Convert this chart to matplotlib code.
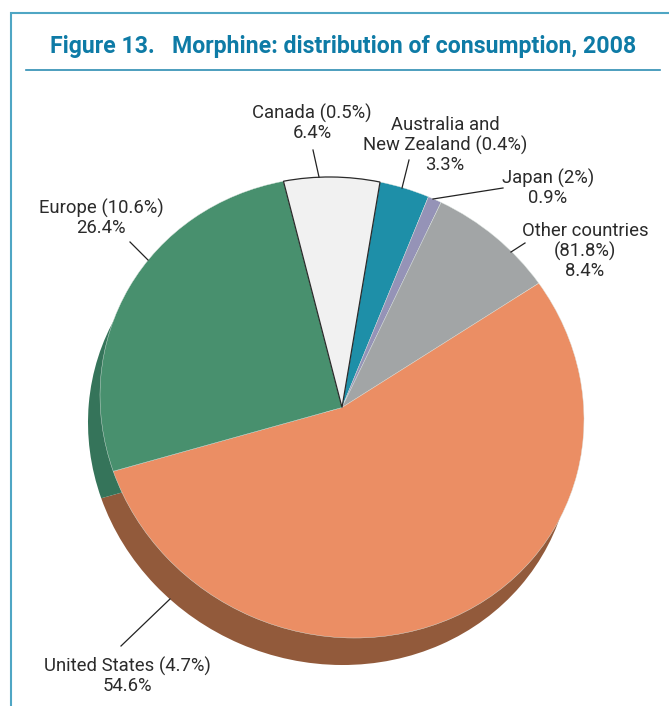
import matplotlib
matplotlib.use("Agg")
import matplotlib.pyplot as plt
from matplotlib.transforms import Affine2D
import numpy as np

W, H = 669, 706

# clockwise from Canada
regions = ["Canada", "Australia and New Zealand", "Japan", "Other countries", "United States", "Europe"]
shares = [6.4, 3.3, 0.9, 8.4, 54.6, 26.4]
top_colors = ["#F1F1F1", "#1E8FA8", "#9593B7", "#A2A5A6", "#EB8E64", "#48906E"]
side_colors = ["#F1F1F1", "#1E8FA8", "#9593B7", "#A2A5A6", "#925A3B", "#35745A"]

title = "Figure 13.   Morphine: distribution of consumption, 2008"
labels = ["Canada (0.5%)\n6.4%", "Australia and\nNew Zealand (0.4%)\n3.3%", "Japan (2%)\n0.9%",
          "Other countries\n(81.8%)\n8.4%", "United States (4.7%)\n54.6%", "Europe (10.6%)\n26.4%"]
label_xy = [(312, 123), (445, 145), (548, 188), (585, 251), (127, 676), (101, 218)]
leaders = [((313, 150), (319, 177)), ((409, 160), (402, 188)), ((503, 188), (433, 199)),
           ((525, 243), (511, 252)), ((121, 646), (170, 599)), ((130, 242), (148, 260))]

cx, cy, rx, ry = 342, 407.5, 242, 230.2
dx, dy = -12, 27
start = 104
shear = -12 / ry   # the pie is a slightly tilted ellipse, not an upright one

fig = plt.figure(figsize=(W / 100, H / 100), dpi=100, facecolor="white")


def draw_pie(x0, y0, colors, **wedgeprops):
    # axes placed in pixels so that the unit pie becomes the flattened ellipse
    a = fig.add_axes([(x0 - rx) / W, 1 - (y0 + ry) / H, 2 * rx / W, 2 * ry / H])
    wedges, _ = a.pie(shares, colors=colors, startangle=start, counterclock=False, radius=1,
                      wedgeprops=wedgeprops)
    a.set_aspect("auto")
    a.set_xlim(-1, 1)
    a.set_ylim(-1, 1)
    tilt = Affine2D(np.array([[1, 0, 0], [shear, 1, 0], [0, 0, 1]]))
    for w in wedges:
        w.set_transform(tilt + a.transData)
        w.set_clip_on(False)
    return wedges


draw_pie(cx + dx, cy + dy, side_colors, linewidth=0)
wedges = draw_pie(cx, cy, top_colors, linewidth=0.3, edgecolor="#DDE5E0")
wedges[0].set_edgecolor("#2A2A2A")
wedges[0].set_linewidth(0.9)
wedges[0].set_zorder(5)

# page overlay in pixel coordinates
over = fig.add_axes([0, 0, 1, 1], facecolor="none")
over.set_xlim(0, W)
over.set_ylim(H, 0)
over.axis("off")

frame = "#4FA6C4"
over.plot([10.5, 10.5, W], [H, 12.5, 12.5], color=frame, lw=1.5, solid_joinstyle="miter")
over.plot([26, 660], [70, 70], color="#2E8DB3", lw=1.2)
over.text(343, 47, title, color="#0E7BA6", family="Roboto", weight="bold", fontsize=16.7,
          ha="center", va="center")

for (p, q) in leaders:
    over.plot([p[0], q[0]], [p[1], q[1]], color="#222222", lw=0.9)
for txt, (x, y) in zip(labels, label_xy):
    over.text(x, y, txt, color="#2B2B2B", family="Roboto", fontsize=13.3, ha="center", va="center",
              linespacing=1.13)

fig.savefig("out.png", dpi=100)
